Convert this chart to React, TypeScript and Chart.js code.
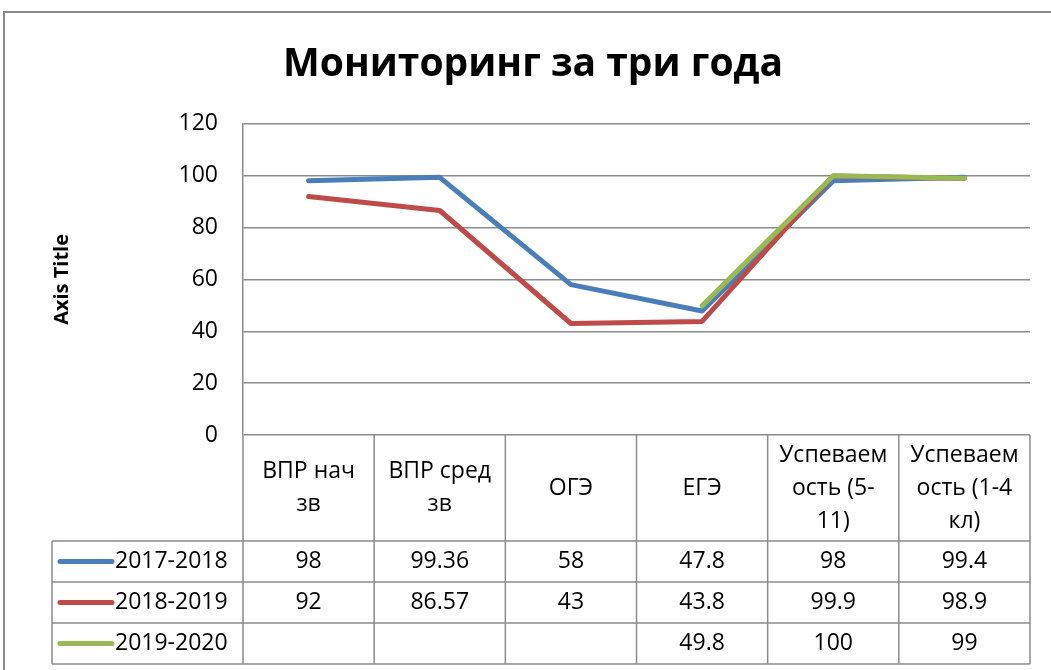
import { useEffect, useRef } from "react";
import { Chart, registerables } from "chart.js";

Chart.register(...registerables);

const chartTitle = "Мониторинг за три года";
const yAxisTitle = "Axis Title";
const categoryLines: string[][] = [
  ["ВПР нач", "зв"],
  ["ВПР сред", "зв"],
  ["ОГЭ"],
  ["ЕГЭ"],
  ["Успеваем", "ость (5-", "11)"],
  ["Успеваем", "ость (1-4", "кл)"],
];
const categories = categoryLines.map((l) => l.join(" "));
const seriesNames = ["2017-2018", "2018-2019", "2019-2020"];
const values1718: (number | null)[] = [98, 99.36, 58, 47.8, 98, 99.4];
const values1819: (number | null)[] = [92, 86.57, 43, 43.8, 99.9, 98.9];
const values1920: (number | null)[] = [null, null, null, 49.8, 100, 99];
const seriesValues = [values1718, values1819, values1920];
const seriesColors = ["#4A7EBB", "#BE4B48", "#98B954"];
const yMin = 0;
const yMax = 120;
const yStep = 20;

const FONT = "'Open Sans', sans-serif";
const GRID = "#8c8c8c";

const tablePlugin = {
  id: "dataTable",
  afterDraw(chart: any) {
    const { ctx, chartArea: ca } = chart;
    const x = chart.scales.x;
    const n = categories.length;
    const half = (x.getPixelForValue(1) - x.getPixelForValue(0)) / 2;
    const bounds: number[] = [];
    for (let i = 0; i <= n; i++) bounds.push(x.getPixelForValue(i) - half);
    const top = ca.bottom;
    const headerBottom = top + 106;
    const rowH = 41;
    const rows = seriesNames.length;
    const bottom = headerBottom + rowH * rows;
    const legendLeft = 52;

    ctx.save();
    // outer frame
    ctx.strokeStyle = "#8a8a8a";
    ctx.lineWidth = 2;
    ctx.strokeRect(4, 12, 1200, 800);

    ctx.strokeStyle = GRID;
    ctx.lineWidth = 1.5;
    ctx.beginPath();
    bounds.forEach((b) => {
      ctx.moveTo(b, top);
      ctx.lineTo(b, bottom);
    });
    ctx.moveTo(legendLeft, headerBottom);
    ctx.lineTo(legendLeft, bottom);
    for (let r = 0; r <= rows; r++) {
      const yy = headerBottom + r * rowH;
      ctx.moveTo(legendLeft, yy);
      ctx.lineTo(bounds[n], yy);
    }
    ctx.stroke();

    ctx.fillStyle = "#000";
    ctx.font = `23px ${FONT}`;
    ctx.textAlign = "center";
    ctx.textBaseline = "middle";
    const lh = 33;
    const hc = (top + headerBottom) / 2;
    categoryLines.forEach((lines, i) => {
      const cx = x.getPixelForValue(i);
      const y0 = hc - ((lines.length - 1) * lh) / 2;
      lines.forEach((t, k) => ctx.fillText(t, cx, y0 + k * lh));
    });

    seriesNames.forEach((name, r) => {
      const cy = headerBottom + r * rowH + rowH / 2;
      ctx.strokeStyle = seriesColors[r];
      ctx.lineWidth = 5;
      ctx.lineCap = "round";
      ctx.beginPath();
      ctx.moveTo(60, cy);
      ctx.lineTo(112, cy);
      ctx.stroke();
      ctx.textAlign = "left";
      ctx.fillText(name, 115, cy);
      ctx.textAlign = "center";
      seriesValues[r].forEach((v, i) => {
        if (v !== null) ctx.fillText(String(v), x.getPixelForValue(i), cy);
      });
    });
    ctx.restore();
  },
};

export default function App() {
  const ref = useRef<HTMLCanvasElement | null>(null);
  useEffect(() => {
    if (!ref.current) return;
    const chart = new Chart(ref.current, {
      type: "line",
      data: {
        labels: categories,
        datasets: seriesNames.map((name, i) => ({
          label: name,
          data: seriesValues[i],
          borderColor: seriesColors[i],
          backgroundColor: seriesColors[i],
          borderWidth: 5,
          pointRadius: 0,
          tension: 0,
          spanGaps: false,
          borderJoinStyle: "round" as const,
          borderCapStyle: "round" as const,
          order: seriesNames.length - 1 - i,
        })),
      },
      options: {
        responsive: false,
        animation: false,
        layout: { padding: { left: 36, right: 21, top: 0, bottom: 235 } },
        plugins: {
          legend: { display: false },
          tooltip: { enabled: false },
          title: {
            display: true,
            text: chartTitle,
            color: "#000",
            font: { family: FONT, size: 39, weight: "bold" },
            padding: { top: 41, bottom: 36 },
          },
        },
        scales: {
          x: { type: "category", display: false, offset: true },
          y: {
            min: yMin,
            max: yMax,
            ticks: {
              stepSize: yStep,
              color: "#000",
              font: { family: FONT, size: 23 },
              padding: 25,
            },
            grid: { color: GRID, lineWidth: 1.5, drawTicks: false },
            border: { display: true, color: GRID, width: 1.5 },
            title: {
              display: true,
              text: yAxisTitle,
              color: "#000",
              font: { family: FONT, size: 20, weight: "bold" },
              padding: { top: 14, bottom: 0 },
            },
            afterFit: (scale: any) => {
              scale.width = 207;
            },
          },
        },
      },
      plugins: [tablePlugin],
    });
    return () => chart.destroy();
  }, []);
  return (
    <div style={{ position: "absolute", left: 0, top: 0, width: 1051, height: 670, background: "#fff" }}>
      <canvas ref={ref} width={1051} height={670} />
    </div>
  );
}
